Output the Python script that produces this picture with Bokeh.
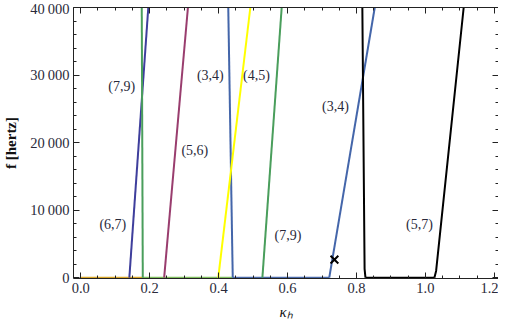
from bokeh.plotting import figure
from bokeh.models import Range1d, LinearAxis, FixedTicker, Label
from bokeh.embed import file_html
from bokeh.resources import INLINE

# ---- data (kappa_h, frequency in hertz) ----
indigo_k = [0.141, 0.196]
indigo_f = [0, 40000]
green1_k = [0.180, 0.177]
green1_f = [0, 40000]
maroon_k = [0.242, 0.311]
maroon_f = [0, 40000]
blue1_k = [0.441, 0.428]
blue1_f = [0, 40000]
yellow_k = [0.399, 0.492]
yellow_f = [0, 40000]
green2_k = [0.527, 0.583]
green2_f = [0, 40000]
blue2_k = [0.721, 0.853]
blue2_f = [0, 40000]
black1_k = [0.826, 0.8235, 0.817]
black1_f = [0, 1300, 40000]
black2_k = [1.026, 1.031, 1.111]
black2_f = [0, 1000, 40000]

# zero-frequency stretches
gold_base_k = [0.0, 0.180]
green_base_k = [0.180, 0.441]
blue_base_k = [0.441, 0.721]
black_base_k = [0.826, 1.026]
base_f = [0, 0]

marker_k = [0.736]
marker_f = [2670]

label_texts = ["(7,9)", "(3,4)", "(4,5)", "(5,6)", "(3,4)", "(6,7)", "(7,9)", "(5,7)"]
label_k = [0.119, 0.376, 0.510, 0.331, 0.739, 0.093, 0.601, 0.9825]
label_f = [28300, 30000, 30000, 18900, 25300, 7860, 6190, 7860]

x_ticks = [0.0, 0.2, 0.4, 0.6, 0.8, 1.0, 1.2]
x_tick_labels = ["0.0", "0.2", "0.4", "0.6", "0.8", "1.0", "1.2"]
y_ticks = [0, 10000, 20000, 30000, 40000]
y_tick_labels = ["0", "10\u2009000", "20\u2009000", "30\u2009000", "40\u2009000"]

x_minor = [i * 0.05 for i in range(-1, 26)]
y_minor = [i * 2000 for i in range(0, 21)]

SERIF = "Liberation Serif"
TXT = "#2a2a3a"
FRAME = "#222222"

p = figure(width=498, height=322, output_backend="svg", toolbar_location=None,
           x_range=Range1d(-0.021, 1.212), y_range=Range1d(-120, 40000),
           min_border_left=68, min_border_right=0, min_border_top=7, min_border_bottom=0)
p.background_fill_color = "white"
p.border_fill_color = "white"
p.outline_line_color = None
p.grid.visible = False

def style_axis(ax, ticks, minor, labels_on, overrides=None):
    ax.ticker = FixedTicker(ticks=ticks, minor_ticks=minor)
    ax.major_tick_in = 6
    ax.major_tick_out = 0
    ax.minor_tick_in = 3
    ax.minor_tick_out = 0
    ax.major_tick_line_color = FRAME
    ax.minor_tick_line_color = FRAME
    ax.axis_line_color = FRAME
    ax.axis_line_width = 1
    ax.major_label_text_font = SERIF
    ax.major_label_text_font_size = "14.5px"
    ax.major_label_text_color = TXT
    if overrides:
        ax.major_label_overrides = overrides
    if not labels_on:
        ax.major_label_text_alpha = 0
        ax.major_label_text_font_size = "0px"
        ax.major_label_standoff = 0
        ax.axis_label_standoff = 0

xo = {t: l for t, l in zip(x_ticks, x_tick_labels)}
yo = {t: l for t, l in zip(y_ticks, y_tick_labels)}

bottom = p.xaxis[0]
left = p.yaxis[0]
style_axis(bottom, x_ticks, x_minor, True, xo)
style_axis(left, y_ticks, y_minor, True, yo)
bottom.major_label_standoff = 4
left.major_label_standoff = 4

bottom.axis_label = "\u03baₕ"
bottom.axis_label_text_font = SERIF
bottom.axis_label_text_font_style = "italic"
bottom.axis_label_text_font_size = "15px"
bottom.axis_label_text_color = "#111111"
bottom.axis_label_standoff = 8

left.axis_label = "f [hertz]"
left.axis_label_text_font = SERIF
left.axis_label_text_font_style = "bold"
left.axis_label_text_font_size = "15px"
left.axis_label_text_color = "#111111"
left.axis_label_standoff = 8

top = LinearAxis()
style_axis(top, x_ticks, x_minor, False)
p.add_layout(top, "above")
right = LinearAxis()
style_axis(right, y_ticks, y_minor, False)
p.add_layout(right, "right")

W = 2
p.line(gold_base_k, base_f, line_color="#D8A62A", line_width=W)
p.line(green_base_k, base_f, line_color="#7FBE5E", line_width=W)
p.line(blue_base_k, base_f, line_color="#4A6AAA", line_width=W)
p.line(black_base_k, base_f, line_color="#000000", line_width=W)

p.line(indigo_k, indigo_f, line_color="#3E3E9C", line_width=W)
p.line(green1_k, green1_f, line_color="#4A9E5C", line_width=W)
p.line(maroon_k, maroon_f, line_color="#993D6E", line_width=W)
p.line(blue1_k, blue1_f, line_color="#4466AA", line_width=W)
p.line(yellow_k, yellow_f, line_color="#FFFF00", line_width=W)
p.line(green2_k, green2_f, line_color="#4A9E5C", line_width=W)
p.line(blue2_k, blue2_f, line_color="#4466AA", line_width=W)
p.line(black1_k, black1_f, line_color="#000000", line_width=W)
p.line(black2_k, black2_f, line_color="#000000", line_width=W)

p.scatter(marker_k, marker_f, marker="x", size=11, line_color="#000000", line_width=2)

for t, k, f in zip(label_texts, label_k, label_f):
    p.add_layout(Label(x=k, y=f, text=t, text_font=SERIF, text_font_size="14px",
                       text_color=TXT, text_align="center", text_baseline="middle"))

open("out.html", "w").write(file_html(p, INLINE))
